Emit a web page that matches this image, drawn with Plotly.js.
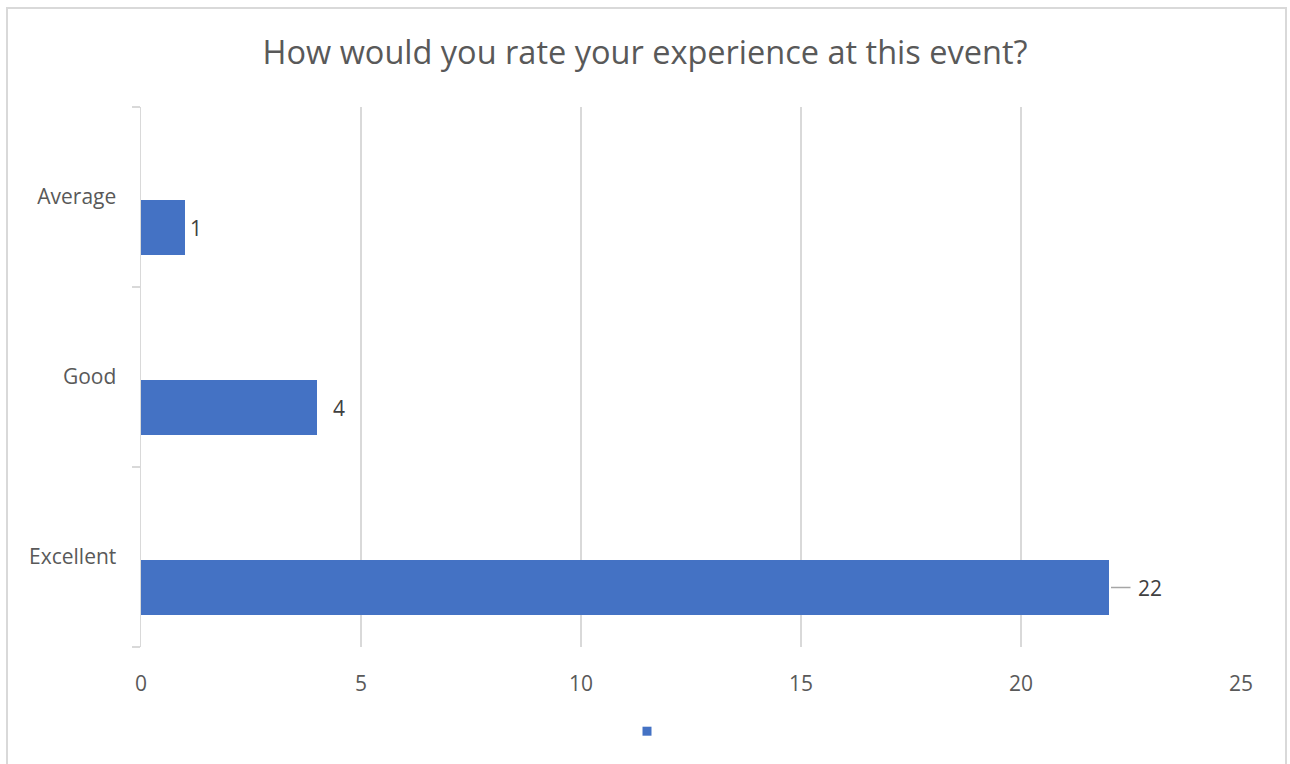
<!DOCTYPE html>
<html>
<head>
<meta charset="utf-8">
<script src="https://cdn.plot.ly/plotly-3.0.1.min.js"></script>
<style>
  body { margin: 0; background: #fff; }
  #wrap { position: relative; width: 1290px; height: 764px; overflow: hidden; }
  #frame { position: absolute; left: 6px; top: 7px; width: 1277px; height: 820px;
           border: 2px solid #d9d9d9; pointer-events: none; }
  #chart { position: absolute; left: 0; top: 0; width: 1290px; height: 764px; }
</style>
</head>
<body>
<div id="wrap">
  <div id="chart"></div>
  <div id="frame"></div>
</div>
<script>
// bottom to top, as plotly puts the first category at the bottom
let ratings = ['Excellent', 'Good', 'Average'];
let counts = [22, 4, 1];
let xTicks = [0, 5, 10, 15, 20, 25];

// label placement (pixels right of the bar end), 22 has a leader line
let labelShift = [41, 14, 3];
let labelLeader = [true, false, false];

let font = 'Open Sans, DejaVu Sans, sans-serif';

let labels = counts.map(function (v, i) {
    if (labelLeader[i]) {
        return {
            x: v, y: ratings[i], xref: 'x', yref: 'y',
            yshift: -30.5,
            text: String(v), showarrow: true, arrowhead: 0,
            arrowwidth: 1.5, arrowcolor: '#a6a6a6',
            ax: labelShift[i], ay: 0, standoff: 2, startstandoff: 6,
            font: {family: font, size: 21, color: '#404040'}
        };
    }
    return {
        x: v, y: ratings[i], xref: 'x', yref: 'y',
        xanchor: 'left', xshift: labelShift[i], yshift: -30.5,
        text: String(v), showarrow: false,
        font: {family: font, size: 21, color: '#404040'}
    };
});

let bars = {
    type: 'bar',
    orientation: 'h',
    x: counts,
    y: ratings,
    width: 0.306,
    offset: -0.322,
    marker: {color: '#4472c4', line: {width: 0}},
    showlegend: false,
    hoverinfo: 'x+y'
};

// legend entry only (no label text, like the original)
let legendKey = {
    type: 'scatter',
    mode: 'markers',
    x: [null], y: [null],
    name: '',
    marker: {symbol: 'square', size: 9, color: '#4472c4'},
    showlegend: true
};

let layout = {
    width: 1290,
    height: 764,
    margin: {l: 141, r: 49, t: 107, b: 117},
    paper_bgcolor: 'rgba(0,0,0,0)',
    plot_bgcolor: 'rgba(0,0,0,0)',
    title: {
        text: 'How would you rate your experience at this event?',
        font: {family: font, size: 32.5, color: '#595959'},
        x: 0.5, xanchor: 'center',
        y: 1 - 53 / 764, yanchor: 'middle', yref: 'container'
    },
    xaxis: {
        range: [0, 25],
        tickvals: xTicks,
        showgrid: true, gridcolor: '#d9d9d9', gridwidth: 1.5,
        zeroline: false, showline: false,
        ticks: 'outside', ticklen: 18, tickcolor: 'rgba(0,0,0,0)',
        tickfont: {family: font, size: 21, color: '#595959'},
        fixedrange: true
    },
    yaxis: {
        type: 'category',
        range: [-0.5, 2.5],
        showgrid: false, zeroline: false,
        showline: true, linecolor: '#d9d9d9', linewidth: 1.5,
        ticks: 'outside', ticklen: 8, tickcolor: '#d9d9d9', tickwidth: 1.5,
        tickson: 'boundaries',
        ticklabelstandoff: 19,
        tickfont: {family: font, size: 21, color: '#595959'},
        fixedrange: true
    },
    legend: {
        orientation: 'h',
        x: (627 - 141) / 1100, xanchor: 'left',
        y: -(731.5 - 647) / 540, yanchor: 'middle',
        font: {family: font, size: 18, color: '#595959'}
    },
    annotations: labels
};

Plotly.newPlot('chart', [bars, legendKey], layout, {displayModeBar: false, staticPlot: true});
</script>
</body>
</html>
